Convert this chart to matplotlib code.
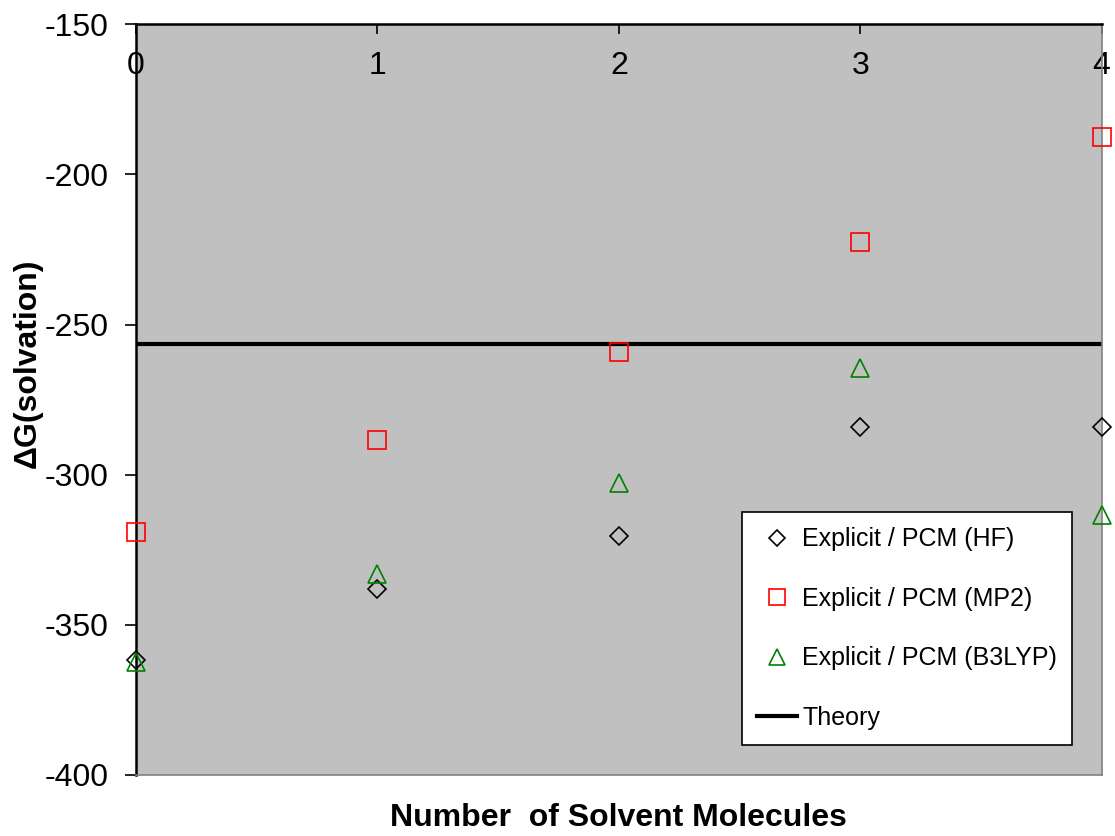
import numpy as np
import matplotlib
matplotlib.use('Agg')
import matplotlib.pyplot as plt

plt.rcParams['font.family'] = ['Liberation Sans', 'DejaVu Sans']
plt.rcParams['axes.unicode_minus'] = False

n_solvent = [0, 1, 2, 3, 4]
dg_hf = [-361.7, -338.1, -320.4, -284.2, -284.2]
dg_mp2 = [-319.1, -288.5, -259.2, -222.6, -187.6]
dg_b3lyp = [-362.4, -333.1, -302.8, -264.5, -313.4]
dg_theory = -256.5

labels = ['Explicit / PCM (HF)', 'Explicit / PCM (MP2)', 'Explicit / PCM (B3LYP)', 'Theory']

fig = plt.figure(figsize=(11.15, 8.36), dpi=100)
ax = fig.add_axes([0.122, 0.073, 0.866, 0.898])
ax.set_facecolor('#c0c0c0')

ax.plot(n_solvent, dg_hf, linestyle='none', marker='D', ms=9.2, mfc='none', mec='black', mew=1.2,
        label=labels[0], clip_on=False, zorder=3)
ax.plot(n_solvent, dg_mp2, linestyle='none', marker='s', ms=13, mfc='none', mec='#ff0000', mew=1.2,
        label=labels[1], clip_on=False, zorder=3)
ax.plot(n_solvent, dg_b3lyp, linestyle='none', marker='^', ms=13, mfc='none', mec='#008000', mew=1.2,
        label=labels[2], clip_on=False, zorder=3)
ax.axhline(dg_theory, color='black', lw=3, label=labels[3], zorder=2)

ax.set_xlim(0, 4)
ax.set_ylim(-400, -150)
ax.set_xticks(n_solvent)
ax.set_yticks(np.arange(-400, -149, 50))

# x ticks sit on the top edge, their labels drawn just inside the plot area
ax.tick_params(axis='x', top=True, bottom=False, labeltop=True, labelbottom=False,
               direction='in', length=7, width=1.2, pad=-41, labelsize=23)
ax.tick_params(axis='y', direction='out', length=8, width=1.2, pad=12, labelsize=23)

for side in ['left', 'top']:
    ax.spines[side].set_color('black')
    ax.spines[side].set_linewidth(1.8)
for side in ['right', 'bottom']:
    ax.spines[side].set_color('#808080')
    ax.spines[side].set_linewidth(1.2)

ax.set_xlabel('Number  of Solvent Molecules', fontsize=23, fontweight='bold', labelpad=20)
ax.set_ylabel('ΔG(solvation)', fontsize=23, fontweight='bold')
ax.yaxis.set_label_coords(-0.097, 0.548)

leg = ax.legend(loc='lower left', bbox_to_anchor=(0.628, 0.040), fontsize=18,
                frameon=True, fancybox=False, framealpha=1, edgecolor='black',
                markerscale=0.85, handlelength=1.6, handletextpad=0.2,
                labelspacing=1.42, borderpad=0.6, borderaxespad=0)
leg.get_frame().set_linewidth(1.2)

plt.savefig('out.png', dpi=100)
